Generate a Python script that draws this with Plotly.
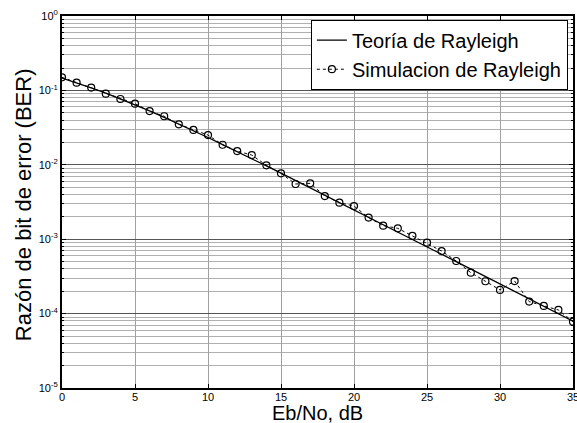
import plotly.graph_objects as go

ebno_db = list(range(0, 36))

ber_theory = [0.1464, 0.1267, 0.1085, 0.0919, 0.0771, 0.0642, 0.0530, 0.0435, 0.0355, 0.0288,
              0.0233, 0.0187, 0.0151, 0.0121, 0.00966, 0.00772, 0.00616, 0.00490, 0.00391, 0.00312,
              0.00248, 0.00197, 0.00157, 0.00125, 0.000994, 0.000790, 0.000628, 0.000499, 0.000397, 0.000315,
              0.000250, 0.000199, 0.000158, 0.000125, 0.0000995, 0.0000791]

ber_sim = [0.150, 0.127, 0.109, 0.0904, 0.0766, 0.0663, 0.0528, 0.0449, 0.0350, 0.0294,
           0.0251, 0.0186, 0.0153, 0.0135, 0.00985, 0.00768, 0.00552, 0.00564, 0.00380, 0.00310,
           0.00279, 0.00195, 0.00152, 0.00140, 0.00111, 0.000897, 0.000693, 0.000509, 0.000355, 0.000272,
           0.000208, 0.000274, 0.000145, 0.000127, 0.000112, 0.0000779]

x_ticks = [0, 5, 10, 15, 20, 25, 30, 35]
y_tick_vals = [1e-5, 1e-4, 1e-3, 1e-2, 1e-1, 1e0]
y_tick_text = ["10<sup>-5</sup>", "10<sup>-4</sup>", "10<sup>-3</sup>", "10<sup>-2</sup>", "10<sup>-1</sup>", "10<sup>0</sup>"]

x_title = "Eb/No, dB"
y_title = "Razón de bit de error (BER)"

FONT = "Liberation Sans, Arial, sans-serif"

fig = go.Figure()
fig.add_trace(go.Scatter(
    x=ebno_db, y=ber_theory, mode="lines", name="Teoría de Rayleigh",
    line=dict(color="black", width=1.3)))
fig.add_trace(go.Scatter(
    x=ebno_db, y=ber_sim, mode="lines+markers", name="Simulacion de Rayleigh",
    line=dict(color="black", width=1, dash="dot"),
    marker=dict(symbol="circle-open", size=7, color="black", line=dict(width=1.2))))

fig.update_layout(
    width=577, height=423,
    margin=dict(l=62, r=4, t=16, b=35),
    paper_bgcolor="white", plot_bgcolor="white",
    font=dict(family=FONT, color="black", size=11),
    showlegend=True,
    legend=dict(x=0.99, y=0.99, xanchor="right", yanchor="top",
                bgcolor="white", bordercolor="black", borderwidth=1,
                font=dict(size=20, family=FONT), tracegroupgap=0,
                itemwidth=30),
    annotations=[
        dict(text=x_title, xref="paper", yref="paper", x=0.5, y=-0.068,
             xanchor="center", yanchor="middle", showarrow=False,
             font=dict(size=20, family=FONT)),
        dict(text=y_title, xref="paper", yref="paper", x=-0.074, y=0.492,
             xanchor="center", yanchor="middle", showarrow=False, textangle=-90,
             font=dict(size=22, family=FONT)),
    ],
)

fig.update_xaxes(
    range=[0, 35], tickvals=x_ticks, ticks="inside", ticklen=4, tickcolor="black",
    showgrid=True, gridcolor="#a0a0a0", gridwidth=1,
    showline=True, linecolor="black", linewidth=2, mirror="ticks",
    zeroline=False, automargin=False, ticklabeloverflow="allow",
    ticklabelstandoff=-2,
    tickfont=dict(size=11),
)
fig.update_yaxes(
    type="log", range=[-5, 0], tickvals=y_tick_vals, ticktext=y_tick_text,
    ticks="inside", ticklen=4, tickcolor="black",
    showgrid=True, gridcolor="#555555", gridwidth=1,
    minor=dict(dtick="D1", showgrid=True, gridcolor="#b0b0b0", gridwidth=1,
               ticks="inside", ticklen=2, tickcolor="black"),
    showline=True, linecolor="black", linewidth=2, mirror="ticks",
    zeroline=False, automargin=False, ticklabeloverflow="allow",
    tickfont=dict(size=11),
)

fig.write_html("out.html", config={"displayModeBar": False})

# remove the browser's default body margin so the figure sits at the window's corner
with open("out.html", "r", encoding="utf-8") as f:
    html = f.read()
html = html.replace("<head>", "<head><style>html,body{margin:0;padding:0;}</style>", 1)
with open("out.html", "w", encoding="utf-8") as f:
    f.write(html)
